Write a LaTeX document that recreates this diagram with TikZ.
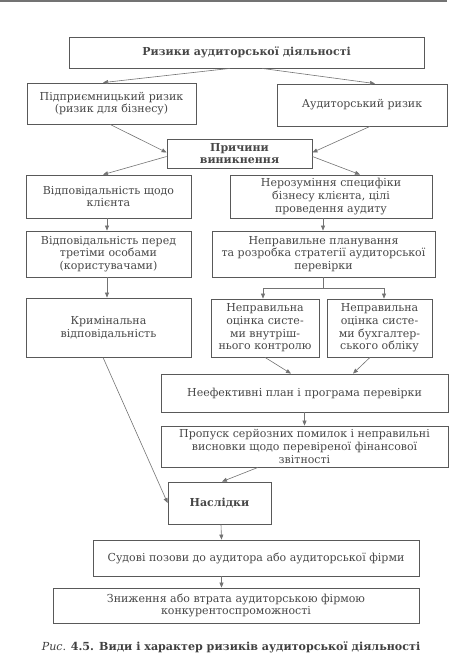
\documentclass[tikz,border=0pt]{standalone}
\usepackage{fontspec}
\setmainfont{DejaVu Serif}
\usetikzlibrary{arrows.meta,calc}
\tikzset{
  box/.style={draw=black!65, line width=0.8pt, inner sep=1pt, align=center, text=black!72,
    font=\fontsize{11}{12.6}\selectfont},
  conn/.style={draw=black!55, line width=0.6pt, -{Triangle[length=5pt,width=4pt]}},
  plain/.style={draw=black!55, line width=0.6pt}
}
\begin{document}
\begin{tikzpicture}[x=1pt,y=-1pt]
\useasboundingbox (0,0) rectangle (466,666);
\fill[black!55] (0,0) rectangle (447,2.5);
\node[box, minimum width=355pt, minimum height=31pt] (top) at (246.5,52.5) {\textbf{Ризики аудиторської діяльності}};
\node[box, minimum width=169pt, minimum height=41pt] (pid) at (111.5,103.5) {Підприємницький ризик\\(ризик для бізнесу)};
\node[box, minimum width=170pt, minimum height=42pt] (aud) at (362,105) {Аудиторський ризик};
\node[box, minimum width=145pt, minimum height=29pt] (pry) at (239.5,153.5) {\textbf{Причини}\\\textbf{виникнення}};
\node[box, minimum width=165pt, minimum height=43pt] (vkl) at (108.5,196.5) {Відповідальність щодо\\клієнта};
\node[box, minimum width=202pt, minimum height=43pt] (ner) at (331,196.5) {Нерозуміння специфіки\\бізнесу клієнта, цілі\\проведення аудиту};
\node[box, minimum width=165pt, minimum height=46pt] (vtr) at (108.5,254) {Відповідальність перед\\третіми особами\\(користувачами)};
\node[box, minimum width=223pt, minimum height=46pt] (npl) at (323.5,254) {Неправильне планування\\та розробка стратегії аудиторської\\перевірки};
\node[box, minimum width=165pt, minimum height=59pt] (krym) at (108.5,327.5) {Кримінальна\\відповідальність};
\node[box, minimum width=108pt, minimum height=58pt] (vnu) at (265,328) {Неправильна\\оцінка систе-\\ми внутріш-\\нього контролю};
\node[box, minimum width=105pt, minimum height=58pt] (buh) at (379.5,328) {Неправильна\\оцінка систе-\\ми бухгалтер-\\ського обліку};
\node[box, minimum width=287pt, minimum height=38pt] (nef) at (304.5,393) {Неефективні план і програма перевірки};
\node[box, minimum width=287pt, minimum height=41pt] (pro) at (304.5,446.5) {Пропуск серйозних помилок і неправильні\\висновки щодо перевіреної фінансової\\звітності};
\node[box, minimum width=103pt, minimum height=42pt] (nas) at (219.5,503) {\textbf{Наслідки}};
\node[box, minimum width=326pt, minimum height=36pt] (sud) at (256,558) {Судові позови до аудитора або аудиторської фірми};
\node[box, minimum width=366pt, minimum height=35pt] (zny) at (236,605.5) {Зниження або втрата аудиторською фірмою\\конкурентоспроможності};
\node[text=black!75, font=\fontsize{11.1}{12}\selectfont] (cap) at (231,647) {\textit{Рис}. \textbf{4.5. Види і характер ризиків аудиторської діяльності}};
% connectors
\draw[conn] ([xshift=-16.5pt]top.south) -- ([xshift=-8.5pt]pid.north);
\draw[conn] ([xshift=15.5pt]top.south) -- ([xshift=13pt]aud.north);
\draw[conn] ([xshift=-1.5pt]pid.south) -- ([yshift=1pt]pry.west);
\draw[conn] ([xshift=8pt]aud.south) -- ([yshift=1pt]pry.east);
\draw[conn] ([yshift=-3pt]pry.west) -- ([xshift=-5.5pt]vkl.north);
\draw[conn] ([yshift=-3pt]pry.east) -- ([xshift=29pt]ner.north);
\draw[conn] ([xshift=-1.5pt]vkl.south) -- ([xshift=-1.5pt]vtr.north);
\draw[conn] ([xshift=-8pt]ner.south) -- ([xshift=-0.5pt]npl.north);
\draw[conn] ([xshift=-1.5pt]vtr.south) -- ([xshift=-1.5pt]krym.north);
\coordinate (split) at ($(npl.south)+(0,11)$);
\draw[plain] (npl.south) -- (split);
\draw[conn] (split) -| ([xshift=-2pt]vnu.north);
\draw[conn] (split) -| ([xshift=4.5pt]buh.north);
\draw[conn] (vnu.south) -- ([xshift=-13.5pt]nef.north);
\draw[conn] ([xshift=-9.5pt]buh.south) -- ([xshift=48.5pt]nef.north);
\draw[conn] (nef.south) -- (pro.north);
\draw[conn] ([xshift=-5.5pt]krym.south) -- (nas.west);
\draw[conn] ([xshift=-46.5pt]pro.south) -- ([xshift=2.5pt]nas.north);
\draw[conn] ([xshift=1.5pt]nas.south) -- ([xshift=-34.5pt]sud.north);
\draw[conn] ([xshift=-34.5pt]sud.south) -- ([xshift=-14.5pt]zny.north);
\end{tikzpicture}
\end{document}
